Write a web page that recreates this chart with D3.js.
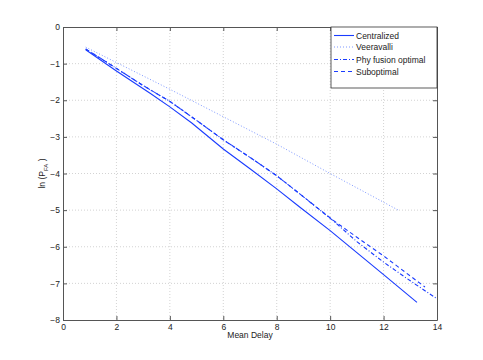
<!DOCTYPE html>
<html>
<head>
<meta charset="utf-8">
<script src="https://cdn.jsdelivr.net/npm/d3@7"></script>
<style>
  html, body { margin: 0; padding: 0; background: #fff; }
  svg { display: block; }
  text { font-family: "Liberation Sans", Arial, Helvetica, sans-serif; fill: #222; }
</style>
</head>
<body>
<svg id="chart" width="483" height="360"></svg>
<script>
// ---- data ----
const xTicks = [0, 2, 4, 6, 8, 10, 12, 14];
const yTicks = [0, -1, -2, -3, -4, -5, -6, -7, -8];
const seriesNames = ["Centralized", "Veeravalli", "Phy fusion optimal", "Suboptimal"];

const centralizedX = [0.85, 2, 3.26, 4, 4.82, 6, 7, 8, 8.87, 10, 11, 12, 13.25];
const centralizedY = [-0.62, -1.2, -1.81, -2.18, -2.62, -3.33, -3.87, -4.42, -4.92, -5.56, -6.16, -6.76, -7.52];

const veeravalliX = [0.85, 2, 4, 6, 8, 10, 12.55];
const veeravalliY = [-0.55, -0.97, -1.7, -2.45, -3.2, -4.0, -5.0];

const phyX = [0.85, 2, 3, 4, 5, 6, 7, 8, 8.87, 10.1, 11, 12, 13, 14];
const phyY = [-0.6, -1.13, -1.6, -2.03, -2.55, -3.08, -3.56, -4.06, -4.56, -5.28, -5.86, -6.42, -6.93, -7.42];

const subX = [0.85, 2, 3, 4, 5, 6, 7, 8, 8.87, 10.1, 11, 12, 13.55];
const subY = [-0.6, -1.13, -1.6, -2.03, -2.55, -3.08, -3.56, -4.06, -4.56, -5.27, -5.74, -6.25, -7.1];

// ---- layout ----
const svg = d3.select("#chart");
const L = 63, R = 437, T = 27, B = 320;
const x = d3.scaleLinear().domain([0, 14]).range([L, R]);
const y = d3.scaleLinear().domain([-8, 0]).range([B, T]);
const axisColor = "#555";

svg.append("rect").attr("width", 483).attr("height", 360).attr("fill", "#fff");

// grid
const grid = svg.append("g");
xTicks.slice(1, -1).forEach(t => {
  grid.append("line").attr("x1", x(t)).attr("x2", x(t)).attr("y1", T).attr("y2", B)
    .attr("stroke", "#c8c8c8").attr("stroke-width", 0.8).attr("stroke-dasharray", "1,2");
});
yTicks.slice(1, -1).forEach(t => {
  grid.append("line").attr("x1", L).attr("x2", R).attr("y1", y(t)).attr("y2", y(t))
    .attr("stroke", "#c8c8c8").attr("stroke-width", 0.8).attr("stroke-dasharray", "1,2");
});

// axes
const fmt = d => d < 0 ? "\u2212" + Math.abs(d) : String(d);
const xAxis = d3.axisBottom(x).tickValues(xTicks).tickSizeInner(-4).tickSizeOuter(0).tickPadding(4).tickFormat(fmt);
const yAxis = d3.axisLeft(y).tickValues(yTicks).tickSizeInner(-4).tickSizeOuter(0).tickPadding(3).tickFormat(fmt);
const xTop = d3.axisTop(x).tickValues(xTicks).tickSizeInner(-4).tickSizeOuter(0).tickFormat("");
const yRight = d3.axisRight(y).tickValues(yTicks).tickSizeInner(-4).tickSizeOuter(0).tickFormat("");

function style(g) {
  g.select(".domain").attr("stroke", axisColor).attr("stroke-width", 1);
  g.selectAll(".tick line").attr("stroke", axisColor);
  g.selectAll(".tick text").attr("font-size", 8.5).attr("fill", "#222")
    .attr("font-family", '"Liberation Sans", Arial, sans-serif');
}
svg.append("g").attr("transform", `translate(0,${B})`).call(xAxis).call(style);
svg.append("g").attr("transform", `translate(${L},0)`).call(yAxis).call(style);
svg.append("g").attr("transform", `translate(0,${T})`).call(xTop).call(style);
svg.append("g").attr("transform", `translate(${R},0)`).call(yRight).call(style);

// lines
const line = d3.line().x(d => x(d[0])).y(d => y(d[1]));
const zip = (a, b) => a.map((v, i) => [v, b[i]]);
svg.append("clipPath").attr("id", "clip").append("rect")
  .attr("x", L).attr("y", T).attr("width", R - L).attr("height", B - T);

const series = [
  { name: seriesNames[0], data: zip(centralizedX, centralizedY), dash: null, color: "#1a3cff", w: 1.1 },
  { name: seriesNames[1], data: zip(veeravalliX, veeravalliY), dash: "1,2", color: "#6f8cff", w: 0.9 },
  { name: seriesNames[2], data: zip(phyX, phyY), dash: "4,2,1,2", color: "#1a3cff", w: 1.1 },
  { name: seriesNames[3], data: zip(subX, subY), dash: "4,3", color: "#1a3cff", w: 1.1 }
];

const lg = svg.append("g").attr("clip-path", "url(#clip)");
series.forEach(s => {
  lg.append("path").attr("d", line(s.data)).attr("fill", "none")
    .attr("stroke", s.color).attr("stroke-width", s.w)
    .attr("stroke-dasharray", s.dash);
});

// legend
const legX = 331, legY = 27, legW = 106, legH = 61;
svg.append("rect").attr("x", legX).attr("y", legY).attr("width", legW).attr("height", legH)
  .attr("fill", "#fff").attr("stroke", "#333").attr("stroke-width", 0.8);
const legYs = [35.5, 47, 59.5, 71.5];
series.forEach((s, i) => {
  svg.append("line").attr("x1", legX + 3).attr("x2", legX + 23)
    .attr("y1", legYs[i]).attr("y2", legYs[i])
    .attr("stroke", s.color).attr("stroke-width", s.w).attr("stroke-dasharray", s.dash);
  svg.append("text").attr("x", legX + 25).attr("y", legYs[i] + 3)
    .attr("font-size", 8.5).text(s.name);
});

// axis labels
svg.append("text").attr("x", (L + R) / 2).attr("y", 338).attr("text-anchor", "middle")
  .attr("font-size", 8.5).text("Mean Delay");

const yl = svg.append("text").attr("transform", `translate(45,${(T + B) / 2}) rotate(-90)`)
  .attr("text-anchor", "middle").attr("font-size", 8.5);
yl.append("tspan").text("ln (P");
yl.append("tspan").attr("font-size", 6).attr("dy", 2.5).text("FA");
yl.append("tspan").attr("dy", -2.5).text(" )");
</script>
</body>
</html>
